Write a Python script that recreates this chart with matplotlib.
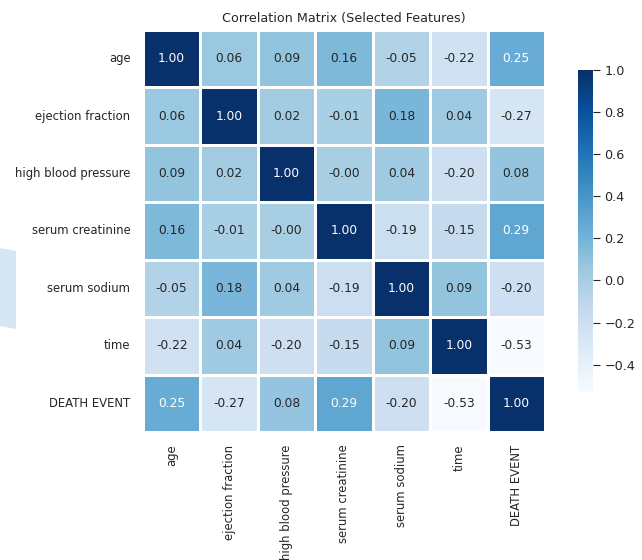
import matplotlib
matplotlib.use("Agg")
import matplotlib.pyplot as plt
from matplotlib.patches import Polygon
import numpy as np
import pandas as pd
import seaborn as sns

features = ["age", "ejection fraction", "high blood pressure", "serum creatinine",
            "serum sodium", "time", "DEATH EVENT"]

# pairwise correlations, one row per feature
age = [1.00, 0.06, 0.09, 0.16, -0.05, -0.22, 0.25]
ejection_fraction = [0.06, 1.00, 0.02, -0.01, 0.18, 0.04, -0.27]
high_blood_pressure = [0.09, 0.02, 1.00, -0.0, 0.04, -0.20, 0.08]
serum_creatinine = [0.16, -0.01, -0.0, 1.00, -0.19, -0.15, 0.29]
serum_sodium = [-0.05, 0.18, 0.04, -0.19, 1.00, 0.09, -0.20]
time = [-0.22, 0.04, -0.20, -0.15, 0.09, 1.00, -0.53]
death_event = [0.25, -0.27, 0.08, 0.29, -0.20, -0.53, 1.00]

corr = pd.DataFrame([age, ejection_fraction, high_blood_pressure, serum_creatinine,
                     serum_sodium, time, death_event],
                    index=features, columns=features)

sns.set_theme(style="white")
plt.rcParams['font.family'] = ['DejaVu Sans']

fig = plt.figure(figsize=(6.42, 5.6), dpi=100)
ax = fig.add_axes([0.2227, 0.2286, 0.6262, 0.7179])
cax = fig.add_axes([0.900, 0.300, 0.023, 0.575])

# pale panel peeking in at the left edge
fig.patches.append(Polygon([(0, 1 - 248 / 560), (16 / 642, 1 - 251 / 560),
                            (16 / 642, 1 - 329 / 560), (0, 1 - 326 / 560)],
                           closed=True, transform=fig.transFigure,
                           facecolor="#d3e6f1", edgecolor="none", zorder=0))

sns.heatmap(corr, ax=ax, cbar_ax=cax, cmap="Blues", annot=True, fmt=".2f",
            linewidths=1, linecolor="white", annot_kws={"size": 8.8})

ax.set_title("Correlation Matrix (Selected Features)", fontsize=9.2, color=".15", pad=6)
ax.tick_params(axis="both", length=0, pad=9, labelsize=8.4, colors=".15")
ax.set_xticklabels(features, rotation=90)
ax.set_yticklabels(features, rotation=0)

cax.tick_params(labelsize=9.2, length=5, width=0.8, colors=".15")
cax.set_yticks([-0.4, -0.2, 0.0, 0.2, 0.4, 0.6, 0.8, 1.0])

fig.savefig("out.png", dpi=100)
